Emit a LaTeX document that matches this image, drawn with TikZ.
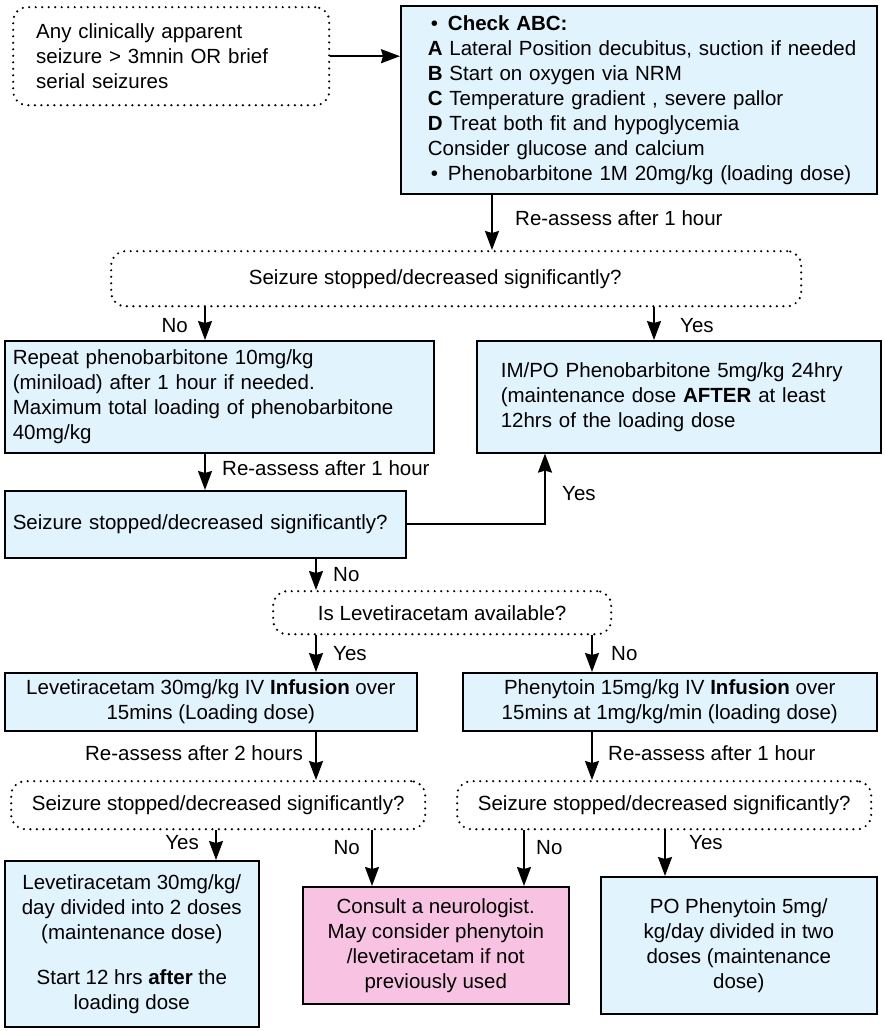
\documentclass[tikz,border=0pt]{standalone}
\usepackage{fontspec}
\setmainfont{Liberation Sans}
\usetikzlibrary{arrows.meta,calc}
\definecolor{boxblue}{HTML}{E1F3FC}
\definecolor{boxpink}{HTML}{F8C3E2}
\begin{document}
\begin{tikzpicture}[x=1pt,y=-1pt,
 every node/.style={font=\fontsize{20.5}{25}\selectfont},
 bluebox/.style={draw=black, line width=1.6pt, fill=boxblue, anchor=north west, inner ysep=0pt},
 pinkbox/.style={draw=black, line width=1.6pt, fill=boxpink, anchor=north west, inner ysep=0pt},
 dotbox/.style={draw=black, line width=2.4pt, line cap=round, dash pattern=on 0pt off 6.5pt, rounded corners=14pt, anchor=north west, inner ysep=0pt},
 arr/.style={line width=1.8pt, -{Stealth[length=19pt,width=14pt,inset=2pt]}},
 ln/.style={line width=1.8pt},
 lbl/.style={inner sep=0pt}
]
\useasboundingbox (0,0) rectangle (884,1031);

% boxes
\node[dotbox, minimum width=316, minimum height=98, inner xsep=23pt, text width=270pt, align=left] (b1) at (12,6)
 {Any clinically apparent\\seizure > 3mnin OR brief\\serial seizures};
\node[bluebox, minimum width=476, minimum height=188, inner xsep=27pt, text width=422pt, align=left] (b2) at (400,5)
 {\hspace*{3pt}\textbullet\hspace*{10pt}\textbf{Check ABC:}\\
  \mbox{\textbf{A} Lateral Position decubitus, suction if needed}\\
  \textbf{B} Start on oxygen via NRM\\
  \textbf{C} Temperature gradient , severe pallor\\
  \textbf{D} Treat both fit and hypoglycemia\\
  Consider glucose and calcium\\
  \mbox{\hspace*{3pt}\textbullet\hspace*{10pt}Phenobarbitone 1M 20mg/kg (loading dose)}};
\node[dotbox, minimum width=690, minimum height=55, align=center] (b3) at (110,250)
 {\hspace*{-42pt}Seizure stopped/decreased significantly?};
\node[bluebox, minimum width=429, minimum height=112, inner xsep=8pt, text width=413pt, align=left] (b4) at (4,340)
 {Repeat phenobarbitone 10mg/kg\\(miniload) after 1 hour if needed.\\Maximum total loading of phenobarbitone\\40mg/kg};
\node[bluebox, minimum width=404, minimum height=112, inner xsep=24pt, text width=356pt, align=left] (b5) at (476,340)
 {IM/PO Phenobarbitone 5mg/kg 24hry\\(maintenance dose \textbf{AFTER} at least\\12hrs of the loading dose};
\node[bluebox, minimum width=401, minimum height=67, inner xsep=8pt, text width=385pt, align=left] (b6) at (4,490)
 {Seizure stopped/decreased significantly?};
\node[dotbox, minimum width=338, minimum height=43, align=center] (b7) at (272,590)
 {Is Levetiracetam available?};
\node[bluebox, minimum width=412, minimum height=58, align=center] (b8) at (4,672)
 {Levetiracetam 30mg/kg IV \textbf{Infusion} over\\15mins (Loading dose)};
\node[bluebox, minimum width=414, minimum height=58, align=center] (b9) at (462,672)
 {Phenytoin 15mg/kg IV \textbf{Infusion} over\\15mins at 1mg/kg/min (loading dose)};
\node[dotbox, minimum width=414, minimum height=48, align=center] (b10) at (10,780)
 {Seizure stopped/decreased significantly?};
\node[dotbox, minimum width=414, minimum height=48, align=center] (b11) at (456,780)
 {Seizure stopped/decreased significantly?};
\node[bluebox, minimum width=254, minimum height=166, align=center] (b12) at (4,860)
 {Levetiracetam 30mg/kg/\\day divided into 2 doses\\(maintenance dose)\\[20pt]Start 12 hrs \textbf{after} the\\loading dose};
\node[pinkbox, minimum width=266, minimum height=117, align=center] (b13) at (302,886)
 {Consult a neurologist.\\May consider phenytoin\\/levetiracetam if not\\previously used};
\node[bluebox, minimum width=276, minimum height=137, align=center] (b14) at (600,876)
 {PO Phenytoin 5mg/\\kg/day divided in two\\doses (maintenance\\dose)};

% column coordinates
\coordinate (x492) at (492,0);
\coordinate (x205) at (205,0);
\coordinate (x654) at (654,0);
\coordinate (x545) at (545,0);
\coordinate (x316) at (316,0);
\coordinate (x592) at (592,0);
\coordinate (x216) at (216,0);
\coordinate (x372) at (372,0);
\coordinate (x524) at (524,0);
\coordinate (x665) at (665,0);

% connectors
\draw[arr] (b1.east) -- (b1.east -| b2.west);
\draw[arr] (b2.south -| x492) -- (b3.north -| x492);
\draw[arr] (b3.south -| x205) -- (b4.north -| x205);
\draw[arr] (b3.south -| x654) -- (b5.north -| x654);
\draw[arr] (b4.south -| x205) -- (b6.north -| x205);
\draw[arr] (b6.east) -| (b5.south -| x545);
\draw[arr] (b6.south -| x316) -- (b7.north -| x316);
\draw[arr] (b7.south -| x316) -- (b8.north -| x316);
\draw[arr] (b7.south -| x592) -- (b9.north -| x592);
\draw[arr] (b8.south -| x316) -- (b10.north -| x316);
\draw[arr] (b9.south -| x592) -- (b11.north -| x592);
\draw[arr] (b10.south -| x216) -- (b12.north -| x216);
\draw[arr] (b10.south -| x372) -- (b13.north -| x372);
\draw[arr] (b11.south -| x524) -- (b13.north -| x524);
\draw[arr] (b11.south -| x665) -- (b14.north -| x665);

% labels
\node[lbl, anchor=west] (l1) at (515,218) {Re-assess after 1 hour};
\node[lbl, anchor=east] (l2) at (188,326) {No};
\node[lbl, anchor=west] (l3) at (680,326) {Yes};
\node[lbl, anchor=west] (l4) at (222,468) {Re-assess after 1 hour};
\node[lbl, anchor=west] (l5) at (562,494) {Yes};
\node[lbl, anchor=west] (l6) at (333,575) {No};
\node[lbl, anchor=west] (l7) at (333,654) {Yes};
\node[lbl, anchor=west] (l8) at (611,654) {No};
\node[lbl, anchor=east] (l9) at (303,753) {Re-assess after 2 hours};
\node[lbl, anchor=west] (l10) at (608,753) {Re-assess after 1 hour};
\node[lbl, anchor=east] (l11) at (199,843) {Yes};
\node[lbl, anchor=east] (l12) at (360,848) {No};
\node[lbl, anchor=west] (l13) at (536,848) {No};
\node[lbl, anchor=west] (l14) at (689,843) {Yes};
\end{tikzpicture}
\end{document}
